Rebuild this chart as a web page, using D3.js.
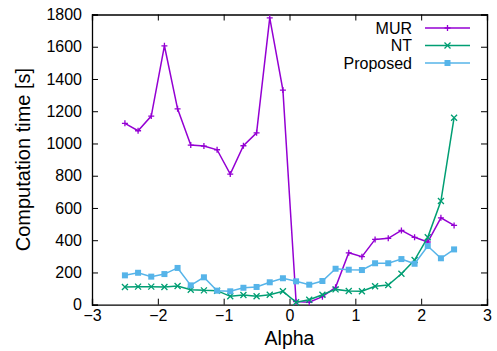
<!DOCTYPE html>
<html><head><meta charset="utf-8">
<script src="https://cdn.jsdelivr.net/npm/d3@7/dist/d3.min.js"></script>
<style>body{margin:0;background:#fff}svg{display:block;font-family:"Liberation Sans",Arial,Helvetica,sans-serif}</style>
</head><body>
<script>
const alphas = [-2.5,-2.3,-2.1,-1.9,-1.7,-1.5,-1.3,-1.1,-0.9,-0.7,-0.5,-0.3,-0.1,0.1,0.3,0.5,0.7,0.9,1.1,1.3,1.5,1.7,1.9,2.1,2.3,2.5];
const murValues = [1125,1079,1170,1606,1215,990,984,961,810,986,1066,1779,1331,19,15,50,108,322,298,405,412,461,418,389,539,492];
const ntValues = [110,112,112,110,116,93,89,87,52,60,52,62,83,15,31,62,95,85,83,114,122,192,277,418,643,1160];
const proposedValues = [182,198,174,190,228,120,170,87,83,105,110,139,164,145,124,147,223,217,215,257,257,283,254,364,288,343];
const xTicks = [-3,-2,-1,0,1,2,3];
const yTicks = [0,200,400,600,800,1000,1200,1400,1600,1800];
const seriesNames = ["MUR","NT","Proposed"];
const seriesColors = ["#9400d3","#009e73","#56b4e9"];
const seriesMarkers = ["plus","cross","square"];

const W=497,H=351;
const m={l:92,r:10,t:14.5,b:46.3};
const svg=d3.select("body").append("svg").attr("width",W).attr("height",H);
const x=d3.scaleLinear().domain([-3,3]).range([m.l,W-m.r]);
const y=d3.scaleLinear().domain([0,1800]).range([H-m.b,m.t]);

const series=[murValues,ntValues,proposedValues];

// axes
const tl=6;
svg.append("g").attr("transform",`translate(0,${y(0)})`).call(d3.axisBottom(x).tickValues(xTicks).tickSize(-tl).tickPadding(4.5).tickFormat(d3.format("d")));
svg.append("g").attr("transform",`translate(0,${y(1800)})`).call(d3.axisTop(x).tickValues(xTicks).tickSize(-tl).tickFormat(""));
svg.append("g").attr("transform",`translate(${x(-3)},0)`).call(d3.axisLeft(y).tickValues(yTicks).tickSize(-tl).tickPadding(10).tickFormat(d3.format("d")));
svg.append("g").attr("transform",`translate(${x(3)},0)`).call(d3.axisRight(y).tickValues(yTicks).tickSize(-tl).tickFormat(""));
svg.selectAll(".domain").attr("stroke","#000").attr("stroke-width",1.3);
svg.selectAll(".tick line").attr("stroke","#000").attr("stroke-width",1);
svg.selectAll(".tick text").attr("font-size",16).attr("fill","#000").attr("font-family","Liberation Sans, Arial, sans-serif");

const line=d3.line().x((d,i)=>x(alphas[i])).y(d=>y(d));
function marker(g,type,cx,cy,c){
  const s=3;
  if(type==="plus"){
    g.append("path").attr("d",`M${cx-s},${cy}H${cx+s}M${cx},${cy-s}V${cy+s}`).attr("stroke",c).attr("stroke-width",1.3);
  } else if(type==="cross"){
    g.append("path").attr("d",`M${cx-s},${cy-s}L${cx+s},${cy+s}M${cx-s},${cy+s}L${cx+s},${cy-s}`).attr("stroke",c).attr("stroke-width",1.3);
  } else {
    g.append("rect").attr("x",cx-3).attr("y",cy-3).attr("width",6).attr("height",6).attr("fill",c);
  }
}
series.forEach((vals,k)=>{
  const g=svg.append("g");
  g.append("path").datum(vals).attr("d",line).attr("fill","none").attr("stroke",seriesColors[k]).attr("stroke-width",1.5);
  vals.forEach((v,i)=>marker(g,seriesMarkers[k],x(alphas[i]),y(v),seriesColors[k]));
});

// legend
const lg=svg.append("g");
seriesNames.forEach((n,k)=>{
  const yy=28+k*17.5;
  lg.append("text").attr("x",412).attr("y",yy).attr("dy","0.35em").attr("text-anchor","end").attr("font-size",16).text(n);
  lg.append("line").attr("x1",425).attr("x2",470).attr("y1",yy).attr("y2",yy).attr("stroke",seriesColors[k]).attr("stroke-width",1.5);
  marker(lg,seriesMarkers[k],447.5,yy,seriesColors[k]);
});

// axis labels
svg.append("text").attr("x",x(0)).attr("y",344.5).attr("text-anchor","middle").attr("font-size",19.5).text("Alpha");
svg.append("text").attr("transform",`translate(30,${(y(0)+y(1800))/2}) rotate(-90)`).attr("text-anchor","middle").attr("font-size",20).text("Computation time [s]");
</script>
</body></html>
